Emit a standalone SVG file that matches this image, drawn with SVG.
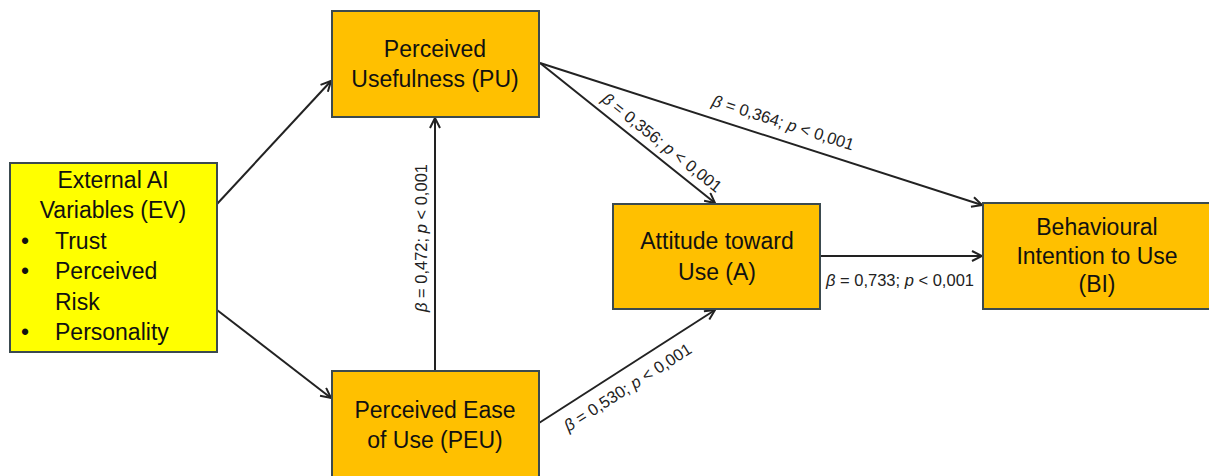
<svg xmlns="http://www.w3.org/2000/svg" width="1209" height="476" viewBox="0 0 1209 476">
<style>
.box{fill:#FFC000;stroke:#3b4a4f;stroke-width:2}
.ev{fill:#FFFF00;stroke:#3b4a4f;stroke-width:2}
.nt{font-family:"Liberation Sans",Arial,sans-serif;font-size:23px;fill:#111;text-anchor:middle}
.bt{font-family:"Liberation Sans",Arial,sans-serif;font-size:23px;fill:#111}
.lbl{font-family:"Liberation Sans",Arial,sans-serif;font-size:16.5px;fill:#222;text-anchor:middle}
.con{stroke:#222;stroke-width:2;fill:none;marker-end:url(#arr)}
</style>
<defs>
<marker id="arr" viewBox="0 0 12 12" refX="11" refY="6" markerWidth="12" markerHeight="12" markerUnits="userSpaceOnUse" orient="auto">
<path d="M1,1 L11,6 L1,11" fill="none" stroke="#222" stroke-width="2"/>
</marker>
</defs>
<rect width="1209" height="476" fill="#ffffff"/>
<g id="connectors">
<line class="con" x1="217" y1="204" x2="331" y2="81"/>
<line class="con" x1="217" y1="310" x2="331" y2="398"/>
<line class="con" x1="435" y1="371" x2="435" y2="118"/>
<line class="con" x1="540" y1="63" x2="715" y2="203"/>
<line class="con" x1="540" y1="63" x2="982" y2="205"/>
<line class="con" x1="821" y1="256" x2="982" y2="256"/>
<line class="con" x1="539" y1="423" x2="715" y2="310"/>
<text class="lbl" transform="translate(781.5,128) rotate(17.8)"><tspan font-style="italic">β</tspan> = 0,364; <tspan font-style="italic">p</tspan> &lt; 0,001</text>
<text class="lbl" transform="translate(658.4,147) rotate(38.7)"><tspan font-style="italic">β</tspan> = 0,356; <tspan font-style="italic">p</tspan> &lt; 0,001</text>
<text class="lbl" transform="translate(427,238) rotate(-90)"><tspan font-style="italic">β</tspan> = 0,472; <tspan font-style="italic">p</tspan> &lt; 0,001</text>
<text class="lbl" x="900" y="286"><tspan font-style="italic">β</tspan> = 0,733; <tspan font-style="italic">p</tspan> &lt; 0,001</text>
<text class="lbl" transform="translate(630.7,392) rotate(-32.7)"><tspan font-style="italic">β</tspan> = 0,530; <tspan font-style="italic">p</tspan> &lt; 0,001</text>
</g>
<g id="ev">
<rect class="ev" x="10" y="163" width="207" height="189"/>
<text class="nt" x="113" y="188">External AI</text>
<text class="nt" x="113" y="218">Variables (EV)</text>
<text class="bt" x="21" y="249">•</text>
<text class="bt" x="55" y="249">Trust</text>
<text class="bt" x="21" y="279">•</text>
<text class="bt" x="55" y="279">Perceived</text>
<text class="bt" x="55" y="310">Risk</text>
<text class="bt" x="21" y="340">•</text>
<text class="bt" x="55" y="340">Personality</text>
</g>
<g id="pu">
<rect class="box" x="332" y="11" width="207" height="106"/>
<text class="nt" x="435" y="57">Perceived</text>
<text class="nt" x="435" y="87">Usefulness (PU)</text>
</g>
<g id="peu">
<rect class="box" x="332" y="371" width="207" height="110"/>
<text class="nt" x="435" y="418">Perceived Ease</text>
<text class="nt" x="435" y="448">of Use (PEU)</text>
</g>
<g id="a">
<rect class="box" x="613" y="204" width="207" height="105"/>
<text class="nt" x="717" y="249">Attitude toward</text>
<text class="nt" x="717" y="280">Use (A)</text>
</g>
<g id="bi">
<rect class="box" x="983" y="203" width="228" height="106"/>
<text class="nt" x="1097" y="235">Behavioural</text>
<text class="nt" x="1097" y="264">Intention to Use</text>
<text class="nt" x="1097" y="292">(BI)</text>
</g>
</svg>
